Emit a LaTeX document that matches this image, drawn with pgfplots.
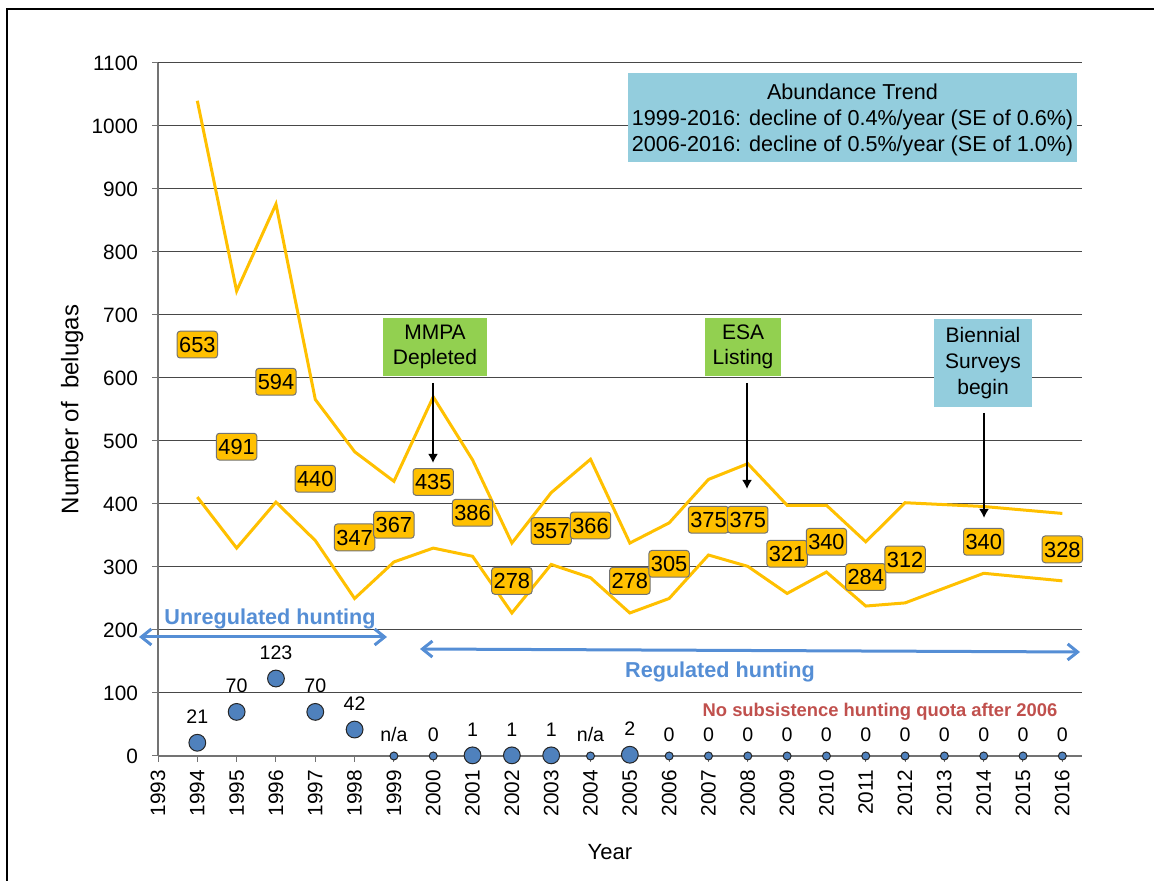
\documentclass[border=0pt]{standalone}
\usepackage{pgfplots}
\pgfplotsset{compat=1.18}
\usepackage{fontspec}
\setmainfont{Liberation Sans}
\usetikzlibrary{arrows.meta}
\definecolor{orng}{HTML}{FFC000}
\definecolor{dotblue}{HTML}{4F81BD}
\definecolor{arrblue}{RGB}{85,142,213}
\definecolor{redtxt}{HTML}{C0504D}
\definecolor{boxblue}{HTML}{93CDDD}
\definecolor{boxgreen}{HTML}{92D050}
\begin{document}
\begin{tikzpicture}[x=1pt,y=1pt]
\begin{axis}[
  at={(79pt,62.5pt)}, anchor=south west,
  scale only axis, width=462pt, height=346.5pt,
  xmin=1993, xmax=2016.5, ymin=0, ymax=1100,
  xtick={1993,...,2016}, ytick={0,100,...,1100},
  axis lines=left, axis line style={-, draw=black!55, line width=0.6pt},
  tick align=outside, major tick length=3pt,
  tick style={draw=black!55, line width=0.5pt},
  ymajorgrids, grid style={black!72, line width=0.5pt},
  /pgf/number format/1000 sep={},
  /pgf/number format/assume math mode=true,
  tick label style={font=\fontsize{10.4}{12}\selectfont},
  x tick label style={rotate=90, anchor=east, xshift=-0.5pt},
  y tick label style={xshift=-3.5pt},
  xlabel={Year}, ylabel={Number of\ \ belugas},
  xlabel style={font=\fontsize{11}{13}\selectfont, at={(axis description cs:0.489,-0.1385)}, anchor=center},
  ylabel style={font=\fontsize{12}{14}\selectfont, at={(axis description cs:-0.093,0.5)}, anchor=center},
  clip=false,
]
% upper bound
\addplot[orng, line width=1.5pt, mark=none] coordinates {
(1994,1040)(1995,738)(1996,876)(1997,566)(1998,483)(1999,436)(2000,570)(2001,470)(2002,338)(2003,418)(2004,471)(2005,338)(2006,370)(2007,439)(2008,464)(2009,398)(2010,398)(2011,340)(2012,402)(2014,396)(2016,385)};
% lower bound
\addplot[orng, line width=1.5pt, mark=none] coordinates {
(1994,411)(1995,330)(1996,403)(1997,342)(1998,250)(1999,308)(2000,330)(2001,317)(2002,227)(2003,304)(2004,283)(2005,227)(2006,250)(2007,319)(2008,301)(2009,258)(2010,292)(2011,238)(2012,243)(2014,290)(2016,278)};
% estimates
\addplot[draw=none, mark=none, point meta=explicit symbolic, nodes near coords, nodes near coords align=center,
  nodes near coords style={fill=orng, draw=black!55, line width=0.5pt, rounded corners=1.5pt, inner xsep=1pt, inner ysep=2.8pt, text height=7.8pt, text depth=0pt, font=\fontsize{10.9}{12}\selectfont, text=black}] coordinates {
(1994,653)[653] (1995,491)[491] (1996,594)[594] (1997,440)[440] (1998,347)[347] (1999,367)[367] (2000,435)[435] (2001,386)[386] (2002,278)[278] (2003,357)[357] (2004,366)[366] (2005,278)[278] (2006,305)[305] (2007,375)[375] (2008,375)[375] (2009,321)[321] (2010,340)[340] (2011,284)[284] (2012,312)[312] (2014,340)[340] (2016,328)[328]};
% hunting, large markers
\addplot[only marks, mark=*, mark size=4.2pt, mark options={fill=dotblue, draw=black!85, line width=0.5pt},
  point meta=explicit symbolic, nodes near coords, nodes near coords align=south,
  nodes near coords style={inner sep=0pt, yshift=9.3pt, text depth=0pt, font=\fontsize{9.8}{11}\selectfont, text=black}] coordinates {
(1994,21)[21] (1995,70)[70] (1996,123)[123] (1997,70)[70] (1998,42)[42] (2001,1)[1] (2002,1)[1] (2003,1)[1] (2005,2)[2]};
% hunting, small markers
\addplot[only marks, mark=*, mark size=2pt, mark options={fill=dotblue, draw=black!85, line width=0.5pt},
  point meta=explicit symbolic, nodes near coords, nodes near coords align=south,
  nodes near coords style={inner sep=0pt, yshift=6.8pt, text depth=0pt, font=\fontsize{9.8}{11}\selectfont, text=black}] coordinates {
(1999,0)[n/a] (2000,0)[0] (2004,0)[n/a] (2006,0)[0] (2007,0)[0] (2008,0)[0] (2009,0)[0] (2010,0)[0] (2011,0)[0] (2012,0)[0] (2013,0)[0] (2014,0)[0] (2015,0)[0] (2016,0)[0]};
\end{axis}
% annotations (1px = 0.5pt)
\draw[arrblue, line width=1.5pt, {Straight Barb[length=5pt,width=8pt]}-{Straight Barb[length=5pt,width=8pt]}] (69.5,122) -- (193.5,122);
\node[text=arrblue, font=\fontsize{10.8}{13}\selectfont\bfseries] at (135,131) {Unregulated hunting};
\draw[arrblue, line width=1.5pt, {Straight Barb[length=5pt,width=8pt]}-{Straight Barb[length=5pt,width=8pt]}] (210,116) -- (540,114.5);
\node[text=arrblue, font=\fontsize{10.8}{13}\selectfont\bfseries] at (360,104.5) {Regulated hunting};
\node[text=redtxt, font=\fontsize{9.2}{11}\selectfont\bfseries] at (440,84.5) {No subsistence hunting quota after 2006};
\fill[boxblue] (314,359.5) rectangle (538.5,404);
\node[inner sep=0pt, align=center, font=\fontsize{10.8}{13}\selectfont] at (426.25,380.5) {Abundance Trend\\1999-2016: decline of 0.4\%/year (SE of 0.6\%)\\2006-2016: decline of 0.5\%/year (SE of 1.0\%)};
\node[fill=boxgreen, minimum width=52pt, minimum height=29pt, inner sep=0pt, align=center, font=\fontsize{10.5}{12.5}\selectfont] at (217.5,267) {MMPA\\Depleted};
\node[fill=boxgreen, minimum width=38pt, minimum height=29pt, inner sep=0pt, align=center, font=\fontsize{10.5}{12.5}\selectfont] at (371.5,267) {ESA\\Listing};
\node[fill=boxblue, minimum width=49pt, minimum height=44pt, inner sep=0pt, align=center, font=\fontsize{10.5}{12.8}\selectfont] at (491.5,259) {Biennial\\Surveys\\begin};
\draw[black, line width=1pt, -{Latex[length=4.5pt,width=5pt]}] (216.5,249) -- (216.5,209);
\draw[black, line width=1pt, -{Latex[length=4.5pt,width=5pt]}] (373.5,249) -- (373.5,196);
\draw[black, line width=1pt, -{Latex[length=4.5pt,width=5pt]}] (492,234) -- (492,181.5);
\draw[black, line width=1pt] (3.5,0) -- (3.5,436) -- (577,436);
\pgfresetboundingbox
\useasboundingbox (0,0) rectangle (577,440.5);
\end{tikzpicture}
\end{document}
